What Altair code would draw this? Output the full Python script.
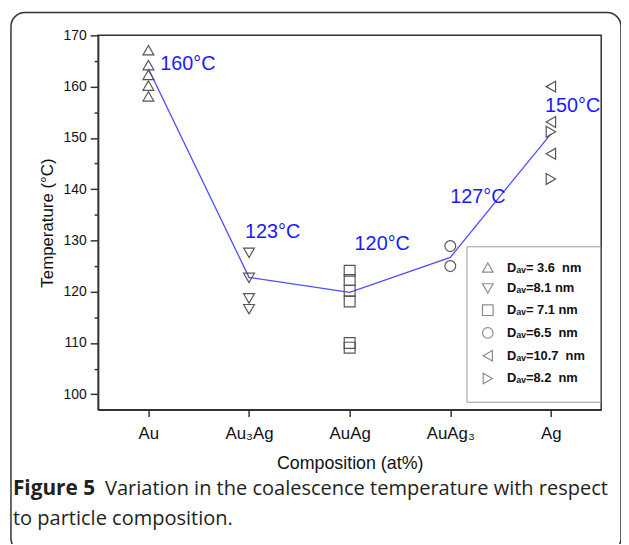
import altair as alt
import pandas as pd

# ---------------- data ----------------
compositions = ["Au", "Au₃Ag", "AuAg", "AuAg₃", "Ag"]
size_labels = ["Dₐᵥ= 3.6\u00a0\u00a0nm", "Dₐᵥ=8.1 nm", "Dₐᵥ= 7.1 nm",
               "Dₐᵥ=6.5\u00a0\u00a0nm", "Dₐᵥ=10.7\u00a0\u00a0nm", "Dₐᵥ=8.2\u00a0\u00a0nm"]
shapes = ["triangle-up", "triangle-down", "square", "circle", "triangle-left", "triangle-right"]

au_temps = [167.1, 164.2, 162.3, 160.2, 158.1]          # D=3.6 nm
au3ag_temps = [127.6, 122.7, 118.7, 116.6]              # D=8.1 nm
auag_temps = [124.1, 122.3, 120.2, 118.1, 110.0, 109.1] # D=7.1 nm
auag3_temps = [128.9, 125.0]                            # D=6.5 nm
ag_a_temps = [160.0, 153.1, 146.9]                      # D=10.7 nm
ag_b_temps = [151.2, 142.0]                             # D=8.2 nm

mean_temps = [163.5, 122.8, 119.9, 126.7, 150.8]
ann_labels = ["160°C", "123°C", "120°C", "127°C", "150°C"]
ann_temps = [164.4, 131.6, 129.3, 138.5, 156.2]

y_ticks = [100, 105, 110, 115, 120, 125, 130, 135, 140, 145, 150, 155, 160, 165, 170]

caption_bold = "Figure 5"
caption_line1 = "Variation in the coalescence temperature with respect"
caption_line2 = "to particle composition."

# ---------------- tables ----------------
groups = [
    (compositions[0], size_labels[0], au_temps),
    (compositions[1], size_labels[1], au3ag_temps),
    (compositions[2], size_labels[2], auag_temps),
    (compositions[3], size_labels[3], auag3_temps),
    (compositions[4], size_labels[4], ag_a_temps),
    (compositions[4], size_labels[5], ag_b_temps),
]
rows = []
for comp, lab, temps in groups:
    for t in temps:
        rows.append({"composition": comp, "dav": lab, "temp": t})
pts = pd.DataFrame(rows)
means = pd.DataFrame({"composition": compositions, "temp": mean_temps})
ann = pd.DataFrame({"composition": compositions, "temp": ann_temps, "label": ann_labels})

FONT = "Liberation Sans"
AXIS_COLOR = "#333333"

X = alt.X("composition:N", sort=compositions,
          scale=alt.Scale(type="point", domain=compositions, padding=0.5),
          axis=alt.Axis(title="Composition (at%)", labelAngle=0, labelFontSize=17,
                        titleFontSize=18, titleFontWeight="normal", tickSize=7,
                        labelPadding=9, titlePadding=13, domainWidth=1.5,
                        tickWidth=1.5, domainColor=AXIS_COLOR, tickColor=AXIS_COLOR,
                        labelColor="#111", titleColor="#111", labelFont=FONT,
                        titleFont=FONT, grid=False))
Y = alt.Y("temp:Q",
          scale=alt.Scale(domain=[97, 170], nice=False, zero=False),
          axis=alt.Axis(title="Temperature (°C)", values=y_ticks,
                        labelExpr="datum.value % 10 === 0 ? datum.label : ''",
                        tickSize={"condition": {"test": "datum.value % 10 === 0", "value": 8}, "value": 4},
                        labelFontSize=14, titleFontSize=17, titleFontWeight="normal",
                        labelPadding=4, titlePadding=7, domainWidth=1.5, tickWidth=1.5,
                        domainColor=AXIS_COLOR, tickColor=AXIS_COLOR, labelColor="#111",
                        titleColor="#111", labelFont=FONT, titleFont=FONT, grid=False))

line = alt.Chart(means).mark_line(color="#4d4dff", strokeWidth=1.3).encode(x=X, y=Y)

points = alt.Chart(pts).mark_point(filled=False, size=120, strokeWidth=1.2,
                                   color="#555555", opacity=1).encode(
    x=X, y=Y,
    shape=alt.Shape("dav:N", sort=size_labels,
                    scale=alt.Scale(domain=size_labels, range=shapes),
                    legend=alt.Legend(title=None, orient="none", legendX=372, legendY=213,
                                      strokeColor="#9a9a9a", padding=15,
                                      rowPadding=6, labelFontSize=13, labelFontWeight="bold",
                                      labelFont=FONT, labelColor="#111", symbolSize=115,
                                      symbolStrokeColor="#8c8c8c", symbolStrokeWidth=1.2,
                                      symbolFillColor="transparent", labelOffset=13,
                                      labelLimit=200)),
)

ann_offsets = [12, -4, 5, 0, -6]
ann_layers = []
for comp, off in zip(compositions, ann_offsets):
    ann_layers.append(
        alt.Chart(ann).transform_filter(alt.datum.composition == comp)
        .mark_text(align="left", baseline="middle", dx=off, fontSize=20,
                   font=FONT, color="#1a1aff")
        .encode(x=X, y=Y, text="label:N")
    )

cap_bold = alt.Chart(pd.DataFrame({"t": [caption_bold]})).mark_text(
    align="left", baseline="alphabetic", fontSize=21, fontWeight="bold",
    font="Open Sans", color="#231f20").encode(
    text="t:N", x=alt.value(-86), y=alt.value(464))
cap_l1 = alt.Chart(pd.DataFrame({"t": [caption_line1]})).mark_text(
    align="left", baseline="alphabetic", fontSize=20.2,
    font="Open Sans", color="#231f20").encode(
    text="t:N", x=alt.value(7), y=alt.value(464))
cap_l2 = alt.Chart(pd.DataFrame({"t": [caption_line2]})).mark_text(
    align="left", baseline="alphabetic", fontSize=20.2,
    font="Open Sans", color="#231f20").encode(
    text="t:N", x=alt.value(-86), y=alt.value(494))

frame = alt.Chart(pd.DataFrame({"f": [0]})).mark_rect(
    fill="transparent", stroke="#333333", strokeWidth=1.5, cornerRadius=14).encode(
    x=alt.value(-88), x2=alt.value(528), y=alt.value(-23), y2=alt.value(522))

chart = alt.layer(frame, line, points, *ann_layers, cap_bold, cap_l1, cap_l2).properties(
    width=508, height=378,
    padding={"left": 91, "top": 25, "right": 20, "bottom": 133},
    autosize=alt.AutoSizeParams(type="none"),
    background="white",
).configure_view(stroke=AXIS_COLOR, strokeWidth=1.5)

chart.save("out.html", embed_options={"renderer": "svg", "actions": False})
